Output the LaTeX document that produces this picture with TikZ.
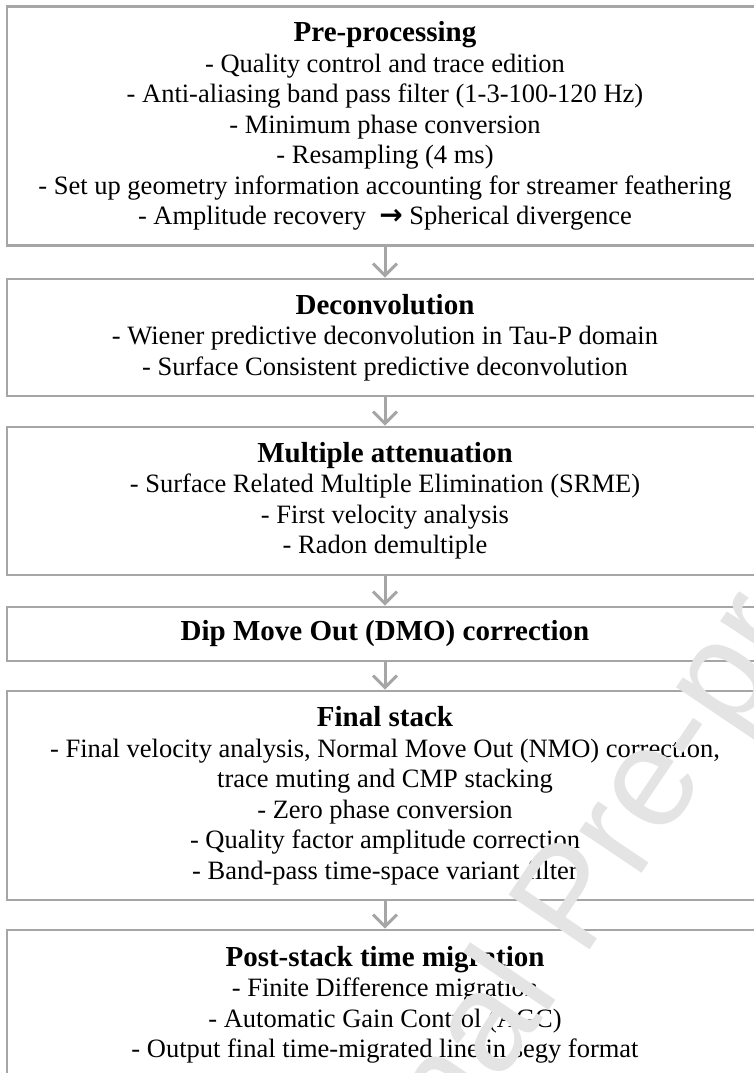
\documentclass[tikz,border=0pt]{standalone}
\usepackage{fontspec}
\setmainfont{Liberation Serif}
\newfontfamily\wmfont{Liberation Sans}
\newfontfamily\arrfont{DejaVu Sans}
\usetikzlibrary{arrows.meta}
\definecolor{boxgray}{RGB}{166,166,166}
\definecolor{wmgray}{RGB}{228,228,228}
\tikzset{
  stepbox/.style={draw=boxgray, line width=2.6pt, minimum width=756pt, inner sep=0pt, align=center,
    font=\fontsize{26.5}{30.5}\selectfont},
  flowarrow/.style={draw=boxgray, line width=3pt, -{Straight Barb[length=12pt,width=24pt,line width=3pt]}},
}
\newcommand{\ttl}[1]{{\fontsize{29}{30.5}\selectfont\bfseries #1}}
\begin{document}
\begin{tikzpicture}[x=1pt,y=-1pt]
\useasboundingbox (0,0) rectangle (754,1073);
\fill[white] (0,0) rectangle (754,1073);
\node[stepbox, minimum height=239pt] (b1) at (385,126.2) {\ttl{Pre-processing}\\
- Quality control and trace edition\\
- Anti-aliasing band pass filter (1-3-100-120 Hz)\\
- Minimum phase conversion\\
- Resampling (4 ms)\\
- Set up geometry information accounting for streamer feathering\\
- Amplitude recovery \ {\arrfont\bfseries\fontsize{28}{28}\selectfont →} Spherical divergence};
\node[stepbox, minimum height=117pt] (b2) at (385,337.5) {\ttl{Deconvolution}\\
- Wiener predictive deconvolution in Tau-P domain\\
- Surface Consistent predictive deconvolution};
\node[stepbox, minimum height=148pt] (b3) at (385,501) {\ttl{Multiple attenuation}\\
- Surface Related Multiple Elimination (SRME)\\
- First velocity analysis\\
- Radon demultiple};
\node[stepbox, minimum height=54pt] (b4) at (385,634) {\ttl{Dip Move Out (DMO) correction}};
\node[stepbox, minimum height=209pt] (b5) at (385,795.5) {\ttl{Final stack}\\
- Final velocity analysis, Normal Move Out (NMO) correction,\\
trace muting and CMP stacking\\
- Zero phase conversion\\
- Quality factor amplitude correction\\
- Band-pass time-space variant filter};
\node[stepbox, minimum height=150pt] (b6) at (385,1005) {\ttl{Post-stack time migration}\\
- Finite Difference migration\\
- Automatic Gain Control (AGC)\\
- Output final time-migrated line in segy format};
\draw[flowarrow] (b1.south) -- (b2.north);
\draw[flowarrow] (b2.south) -- (b3.north);
\draw[flowarrow] (b3.south) -- (b4.north);
\draw[flowarrow] (b4.south) -- (b5.north);
\draw[flowarrow] (b5.south) -- (b6.north);
\node[text=wmgray, font=\wmfont\fontsize{142}{142}\selectfont, rotate=56, inner sep=0pt] (wm) at (577,903) {Journal Pre-proof};
\end{tikzpicture}
\end{document}
